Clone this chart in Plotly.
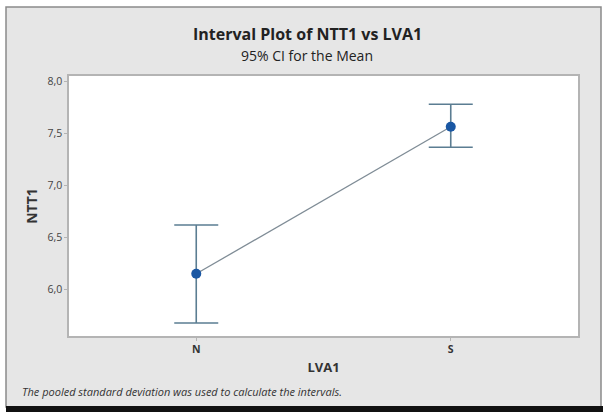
import plotly.graph_objects as go

categories = ["N", "S"]
means = [6.147, 7.566]
upper = [6.617, 7.782]
lower = [5.672, 7.368]
y_ticks = [6.0, 6.5, 7.0, 7.5, 8.0]

W, H = 606, 412
L, R, T, B = 69, 578, 76, 336

err_plus = [u - m for u, m in zip(upper, means)]
err_minus = [m - l for m, l in zip(means, lower)]

fig = go.Figure()
fig.add_trace(go.Scatter(
    x=[0, 1], y=means, mode="lines",
    line=dict(color="#7f8c96", width=1.3),
    hoverinfo="skip", showlegend=False))
fig.add_trace(go.Scatter(
    x=[0, 1], y=means, mode="markers",
    marker=dict(color="#1a57a3", size=10),
    error_y=dict(type="data", symmetric=False, array=err_plus, arrayminus=err_minus,
                 color="#5b7d92", thickness=1.6, width=22),
    showlegend=False))

font = "Open Sans, Noto Sans, sans-serif"
fig.update_layout(
    width=W, height=H,
    margin=dict(l=L, r=W - R, t=T, b=H - B),
    paper_bgcolor="white", plot_bgcolor="white",
    separators=",.",
    font=dict(family=font, color="#333333"),
    xaxis=dict(range=[-0.5, 1.5], tickvals=[0, 1], ticktext=["<b>" + c + "</b>" for c in categories],
               showgrid=False, zeroline=False, showline=True, linecolor="#b4b4b4",
               linewidth=1.5, mirror=True, ticks="outside", ticklen=3, tickcolor="#b4b4b4",
               tickfont=dict(size=10.5, color="#333333"),
               title=dict(text="<b>LVA1</b>", font=dict(size=13, color="#333333"), standoff=8)),
    yaxis=dict(range=[5.547, 8.055], tickvals=y_ticks, tickformat=".1f",
               showgrid=False, zeroline=False, showline=True, linecolor="#b4b4b4",
               linewidth=1.5, mirror=True, ticks="outside", ticklen=3, tickcolor="#b4b4b4",
               tickfont=dict(size=10.5, color="#444444"),
               title=dict(text="<b>NTT1</b>", font=dict(size=14, color="#333333"), standoff=7)),
    shapes=[
        dict(type="rect", xref="paper", yref="paper", layer="below",
             x0=(6 - L) / (R - L), x1=(601 - L) / (R - L),
             y0=(B - 407) / (B - T), y1=(B - 7) / (B - T),
             fillcolor="#e6e6e6", line=dict(color="#8a8a8a", width=1.5)),
        dict(type="rect", xref="paper", yref="paper", layer="below",
             x0=(6 - L) / (R - L), x1=(603 - L) / (R - L),
             y0=(B - 412) / (B - T), y1=(B - 406) / (B - T),
             fillcolor="#111111", line=dict(width=0)),
        dict(type="rect", xref="paper", yref="paper", layer="below",
             x0=0, x1=1, y0=0, y1=1, fillcolor="white", line=dict(width=0)),
    ],
    annotations=[
        dict(text="<b>Interval Plot of NTT1 vs LVA1</b>", xref="paper", yref="paper",
             x=(307 - L) / (R - L), y=(B - 34) / (B - T), showarrow=False,
             xanchor="center", yanchor="middle",
             font=dict(size=16, color="#222222", family=font)),
        dict(text="95% CI for the Mean", xref="paper", yref="paper",
             x=(307 - L) / (R - L), y=(B - 55) / (B - T), showarrow=False,
             xanchor="center", yanchor="middle",
             font=dict(size=14, color="#222222", family=font)),
        dict(text="<i>The pooled standard deviation was used to calculate the intervals.</i>",
             xref="paper", yref="paper", xanchor="left", yanchor="middle",
             x=(20 - L) / (R - L), y=(B - 391) / (B - T), showarrow=False,
             font=dict(size=11, color="#333333", family=font)),
    ],
)

fig.write_html("out.html", config={"displayModeBar": False},
               post_script="document.body.style.margin='0';document.body.style.overflow='hidden';")
